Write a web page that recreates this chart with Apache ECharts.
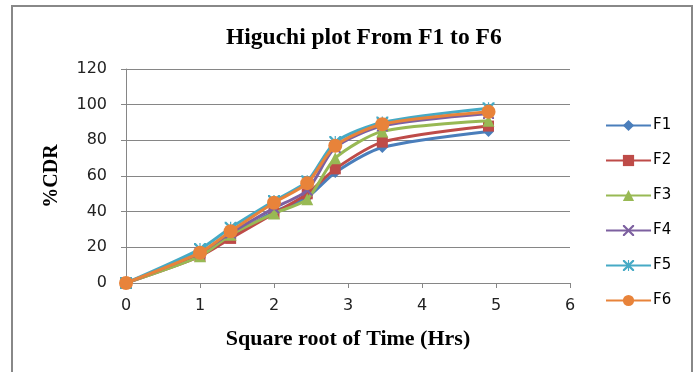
<!DOCTYPE html>
<html>
<head>
<meta charset="utf-8">
<script src="https://cdn.jsdelivr.net/npm/echarts@6/dist/echarts.min.js"></script>
<style>
  html, body { margin: 0; padding: 0; background: #fff; }
  #chart { width: 696px; height: 372px; }
</style>
</head>
<body>
<div id="chart"></div>
<script>
// square root of time (hrs): sqrt of 0,1,2,4,6,8,12,24
const sqrtTime = [0, 1, 1.414, 2, 2.449, 2.828, 3.464, 4.899];
const seriesNames = ['F1', 'F2', 'F3', 'F4', 'F5', 'F6'];
const f1 = [0, 16, 26, 40, 48, 62, 76, 85];
const f2 = [0, 15, 25, 39, 50, 64, 79, 88];
const f3 = [0, 15, 27, 39, 47, 70, 85, 91];
const f4 = [0, 17, 28, 42, 52, 76, 88, 95];
const f5 = [0, 19, 31, 46, 57, 79, 90, 98];
const f6 = [0, 17, 29, 45, 56, 77, 89, 96];
const yTicks = [0, 20, 40, 60, 80, 100, 120];

const colors = ['#4A7EBB', '#BE4B48', '#98B954', '#7D60A0', '#46AAC5', '#E8833A'];
const xPath = 'path://M0,0L1.4,0L5,3.6L8.6,0L10,0L10,1.4L6.4,5L10,8.6L10,10L8.6,10L5,6.4L1.4,10L0,10L0,8.6L3.6,5L0,1.4Z';
const starPath = 'path://M0,0L1.4,0L4.5,3.1L4.5,0L5.5,0L5.5,3.1L8.6,0L10,0L10,1.4L6.4,5L10,8.6L10,10L8.6,10L5.5,6.9L5.5,10L4.5,10L4.5,6.9L1.4,10L0,10L0,8.6L3.6,5L0,1.4Z';
const symbols = ['diamond', 'rect', 'triangle', xPath, starPath, 'circle'];
const symbolSizes = [11, 11, 12, 11, 12, 14];
const allData = [f1, f2, f3, f4, f5, f6];

const chart = echarts.init(document.getElementById('chart'));

const series = seriesNames.map((name, i) => ({
  name: name,
  type: 'line',
  smooth: 0.25,
  data: sqrtTime.map((x, j) => [x, allData[i][j]]),
  symbol: symbols[i],
  symbolSize: symbolSizes[i],
  lineStyle: { color: colors[i], width: 3 },
  itemStyle: { color: colors[i] },
  z: 2 + i
}));

const serifBold = { fontFamily: 'Liberation Serif', fontWeight: 'bold', color: '#000' };

chart.setOption({
  animation: false,
  title: {
    text: 'Higuchi plot From F1 to F6',
    left: 221,
    top: 21,
    textStyle: Object.assign({ fontSize: 23.5 }, serifBold)
  },
  graphic: [{
    type: 'rect',
    shape: { x: 12, y: 6, width: 680, height: 380 },
    style: { fill: 'none', stroke: '#888', lineWidth: 2 },
    silent: true
  }],
  legend: {
    orient: 'vertical',
    left: 600,
    top: 113,
    itemWidth: 45,
    itemHeight: 14,
    itemGap: 20,
    textStyle: { fontFamily: 'DejaVu Sans', fontSize: 15, color: '#000', padding: [0, 0, 0, -3] },
    data: seriesNames
  },
  grid: { left: 126, right: 126, top: 69, bottom: 89, containLabel: false },
  xAxis: {
    type: 'value',
    min: 0, max: 6, interval: 1,
    name: 'Square root of Time (Hrs)',
    nameLocation: 'middle',
    nameGap: 45,
    nameTextStyle: Object.assign({ fontSize: 22 }, serifBold),
    axisLine: { onZero: false, lineStyle: { color: '#868686', width: 1 } },
    axisTick: { show: true, length: 5, lineStyle: { color: '#868686' } },
    axisLabel: { fontFamily: 'DejaVu Sans', fontSize: 16, color: '#222', margin: 15 },
    splitLine: { show: false }
  },
  yAxis: {
    type: 'value',
    min: 0, max: 120, interval: 20,
    name: '%CDR',
    nameLocation: 'middle',
    nameGap: 64,
    nameTextStyle: Object.assign({ fontSize: 20 }, serifBold),
    axisLine: { show: true, lineStyle: { color: '#868686', width: 1 } },
    axisTick: { show: true, length: 5, lineStyle: { color: '#868686' } },
    axisLabel: {
      fontFamily: 'DejaVu Sans', fontSize: 16, color: '#222', margin: 19,
      formatter: v => (yTicks.includes(v) ? String(v) : '')
    },
    splitLine: { show: true, lineStyle: { color: '#868686', width: 1 } }
  },
  series: series
});
</script>
</body>
</html>
